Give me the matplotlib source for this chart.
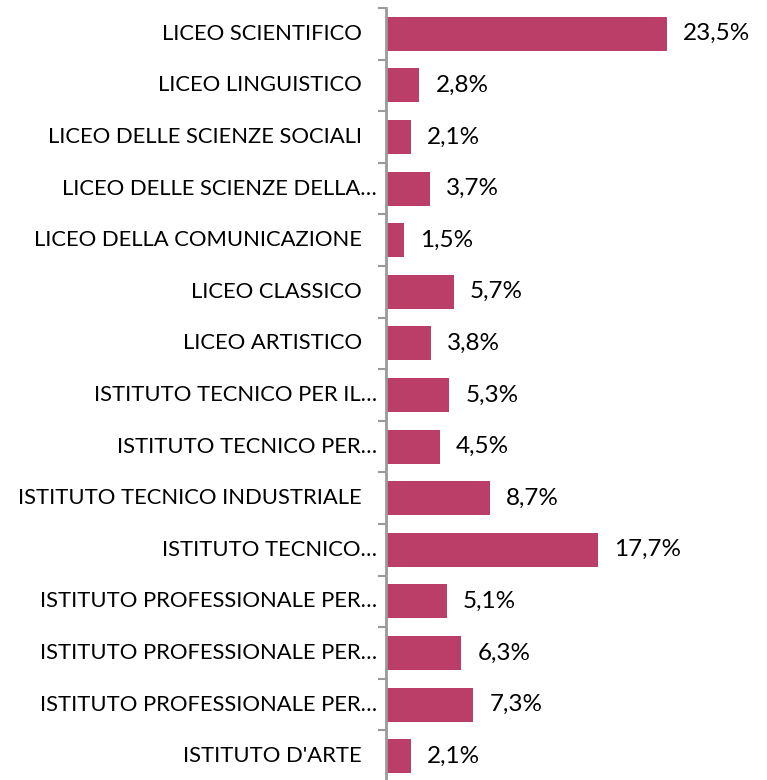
import numpy as np
import matplotlib.pyplot as plt

# Categories (top to bottom) and percentages
categories = [
    "LICEO SCIENTIFICO",
    "LICEO LINGUISTICO",
    "LICEO DELLE SCIENZE SOCIALI",
    "LICEO DELLE SCIENZE DELLA…",
    "LICEO DELLA COMUNICAZIONE",
    "LICEO CLASSICO",
    "LICEO ARTISTICO",
    "ISTITUTO TECNICO PER IL…",
    "ISTITUTO TECNICO PER…",
    "ISTITUTO TECNICO INDUSTRIALE",
    "ISTITUTO TECNICO…",
    "ISTITUTO PROFESSIONALE PER…",
    "ISTITUTO PROFESSIONALE PER…",
    "ISTITUTO PROFESSIONALE PER…",
    "ISTITUTO D'ARTE",
]
values = [23.5, 2.8, 2.1, 3.7, 1.5, 5.7, 3.8, 5.3, 4.5, 8.7, 17.7, 5.1, 6.3, 7.3, 2.1]

plt.rcParams['font.family'] = ['Lato', 'DejaVu Sans']

W, H = 767, 780
fig = plt.figure(figsize=(W / 100, H / 100), dpi=100)
# axes placed in pixels: left edge 386, top 8, slot height 51.6, cropped at the bottom
left, top, slot = 386, 8, 51.6
ax_h = slot * len(categories)
ax = fig.add_axes([left / W, 1 - (top + ax_h) / H, (W - left) / W, ax_h / H])

y = np.arange(len(categories))
ax.barh(y, values, height=0.66, color='#BA3E68', zorder=2)
ax.set_xlim(0, (W - left) / 11.96)
ax.set_ylim(len(categories) - 0.5, -0.5)

for s in ['top', 'right', 'bottom']:
    ax.spines[s].set_visible(False)
ax.spines['left'].set_color('#9a9a9a')
ax.spines['left'].set_linewidth(2)
ax.set_xticks([])
ax.set_yticks(np.arange(len(categories) + 1) - 0.5)
ax.set_yticklabels([])
ax.tick_params(axis='y', length=6, width=1.5, color='#9a9a9a')

for i, (lab, v) in enumerate(zip(categories, values)):
    pad = -6.5 if lab.endswith('…') else -17.3
    ax.annotate(lab, (0, i), xytext=(pad, 0), textcoords='offset points',
                ha='right', va='center', fontsize=15.8, color='black',
                annotation_clip=False)
    ax.annotate(f"{v:.1f}%".replace('.', ','), (v, i), xytext=(11.5, 0),
                textcoords='offset points', ha='left', va='center',
                fontsize=17.5, color='black')

fig.savefig('out.png', dpi=100)
